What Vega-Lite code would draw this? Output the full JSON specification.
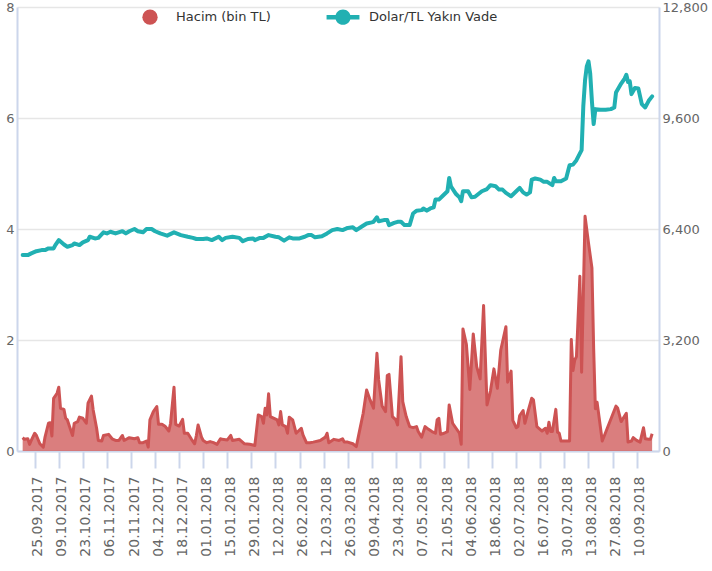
{
  "$schema": "https://vega.github.io/schema/vega-lite/v6.json",
  "width": 642,
  "height": 444,
  "autosize": {"type": "none"},
  "padding": {"left": 17, "top": 7, "right": 53, "bottom": 120},
  "background": "white",
  "config": {"view": {"stroke": null}},
  "datasets": {
    "hacim": [
      {"tarih": "2017-09-18", "hacim": 384}, {"tarih": "2017-09-19", "hacim": 336}, {"tarih": "2017-09-21", "hacim": 352}, {"tarih": "2017-09-22", "hacim": 192}, {"tarih": "2017-09-23", "hacim": 304}, {"tarih": "2017-09-25", "hacim": 512}, {"tarih": "2017-09-26", "hacim": 448}, {"tarih": "2017-09-28", "hacim": 208}, {"tarih": "2017-09-30", "hacim": 112},
      {"tarih": "2017-10-01", "hacim": 400}, {"tarih": "2017-10-03", "hacim": 800}, {"tarih": "2017-10-04", "hacim": 816}, {"tarih": "2017-10-05", "hacim": 432}, {"tarih": "2017-10-06", "hacim": 1520}, {"tarih": "2017-10-08", "hacim": 1664}, {"tarih": "2017-10-09", "hacim": 1840}, {"tarih": "2017-10-10", "hacim": 1232}, {"tarih": "2017-10-12", "hacim": 1200}, {"tarih": "2017-10-13", "hacim": 944}, {"tarih": "2017-10-14", "hacim": 896}, {"tarih": "2017-10-17", "hacim": 448}, {"tarih": "2017-10-18", "hacim": 800}, {"tarih": "2017-10-20", "hacim": 848}, {"tarih": "2017-10-21", "hacim": 976}, {"tarih": "2017-10-23", "hacim": 944}, {"tarih": "2017-10-25", "hacim": 800}, {"tarih": "2017-10-26", "hacim": 1376}, {"tarih": "2017-10-28", "hacim": 1584}, {"tarih": "2017-10-29", "hacim": 1184}, {"tarih": "2017-10-31", "hacim": 656},
      {"tarih": "2017-11-01", "hacim": 304}, {"tarih": "2017-11-03", "hacim": 288}, {"tarih": "2017-11-04", "hacim": 448}, {"tarih": "2017-11-07", "hacim": 480}, {"tarih": "2017-11-09", "hacim": 352}, {"tarih": "2017-11-11", "hacim": 304}, {"tarih": "2017-11-13", "hacim": 304}, {"tarih": "2017-11-15", "hacim": 448}, {"tarih": "2017-11-16", "hacim": 304}, {"tarih": "2017-11-19", "hacim": 384}, {"tarih": "2017-11-22", "hacim": 352}, {"tarih": "2017-11-24", "hacim": 384}, {"tarih": "2017-11-25", "hacim": 240}, {"tarih": "2017-11-27", "hacim": 240}, {"tarih": "2017-11-29", "hacim": 288}, {"tarih": "2017-11-30", "hacim": 112},
      {"tarih": "2017-12-01", "hacim": 896}, {"tarih": "2017-12-03", "hacim": 1136}, {"tarih": "2017-12-05", "hacim": 1280}, {"tarih": "2017-12-06", "hacim": 768}, {"tarih": "2017-12-08", "hacim": 768}, {"tarih": "2017-12-10", "hacim": 704}, {"tarih": "2017-12-12", "hacim": 576}, {"tarih": "2017-12-13", "hacim": 800}, {"tarih": "2017-12-15", "hacim": 1840}, {"tarih": "2017-12-16", "hacim": 768}, {"tarih": "2017-12-18", "hacim": 720}, {"tarih": "2017-12-20", "hacim": 912}, {"tarih": "2017-12-21", "hacim": 512}, {"tarih": "2017-12-23", "hacim": 512}, {"tarih": "2017-12-25", "hacim": 352}, {"tarih": "2017-12-27", "hacim": 208}, {"tarih": "2017-12-28", "hacim": 448}, {"tarih": "2017-12-29", "hacim": 752}, {"tarih": "2017-12-31", "hacim": 400},
      {"tarih": "2018-01-01", "hacim": 304}, {"tarih": "2018-01-03", "hacim": 240}, {"tarih": "2018-01-05", "hacim": 272}, {"tarih": "2018-01-07", "hacim": 240}, {"tarih": "2018-01-09", "hacim": 192}, {"tarih": "2018-01-11", "hacim": 352}, {"tarih": "2018-01-12", "hacim": 336}, {"tarih": "2018-01-15", "hacim": 320}, {"tarih": "2018-01-17", "hacim": 448}, {"tarih": "2018-01-18", "hacim": 304}, {"tarih": "2018-01-22", "hacim": 336}, {"tarih": "2018-01-25", "hacim": 208}, {"tarih": "2018-01-28", "hacim": 192}, {"tarih": "2018-01-31", "hacim": 160},
      {"tarih": "2018-02-02", "hacim": 1040}, {"tarih": "2018-02-04", "hacim": 992}, {"tarih": "2018-02-05", "hacim": 800}, {"tarih": "2018-02-06", "hacim": 1232}, {"tarih": "2018-02-07", "hacim": 1040}, {"tarih": "2018-02-08", "hacim": 1648}, {"tarih": "2018-02-09", "hacim": 992}, {"tarih": "2018-02-13", "hacim": 896}, {"tarih": "2018-02-14", "hacim": 752}, {"tarih": "2018-02-15", "hacim": 1136}, {"tarih": "2018-02-16", "hacim": 752}, {"tarih": "2018-02-18", "hacim": 704}, {"tarih": "2018-02-19", "hacim": 512}, {"tarih": "2018-02-20", "hacim": 976}, {"tarih": "2018-02-22", "hacim": 896}, {"tarih": "2018-02-24", "hacim": 512}, {"tarih": "2018-02-27", "hacim": 656}, {"tarih": "2018-02-28", "hacim": 464},
      {"tarih": "2018-03-02", "hacim": 240}, {"tarih": "2018-03-04", "hacim": 240}, {"tarih": "2018-03-06", "hacim": 256}, {"tarih": "2018-03-10", "hacim": 304}, {"tarih": "2018-03-13", "hacim": 400}, {"tarih": "2018-03-14", "hacim": 512}, {"tarih": "2018-03-15", "hacim": 240}, {"tarih": "2018-03-18", "hacim": 336}, {"tarih": "2018-03-21", "hacim": 304}, {"tarih": "2018-03-23", "hacim": 352}, {"tarih": "2018-03-24", "hacim": 256}, {"tarih": "2018-03-26", "hacim": 256}, {"tarih": "2018-03-29", "hacim": 208}, {"tarih": "2018-03-31", "hacim": 128},
      {"tarih": "2018-04-02", "hacim": 608}, {"tarih": "2018-04-04", "hacim": 1088}, {"tarih": "2018-04-06", "hacim": 1760}, {"tarih": "2018-04-08", "hacim": 1472}, {"tarih": "2018-04-10", "hacim": 1232}, {"tarih": "2018-04-12", "hacim": 2816}, {"tarih": "2018-04-13", "hacim": 2048}, {"tarih": "2018-04-15", "hacim": 1296}, {"tarih": "2018-04-17", "hacim": 1136}, {"tarih": "2018-04-18", "hacim": 2176}, {"tarih": "2018-04-19", "hacim": 2208}, {"tarih": "2018-04-21", "hacim": 992}, {"tarih": "2018-04-23", "hacim": 896}, {"tarih": "2018-04-24", "hacim": 752}, {"tarih": "2018-04-26", "hacim": 2720}, {"tarih": "2018-04-27", "hacim": 1424}, {"tarih": "2018-04-29", "hacim": 992},
      {"tarih": "2018-05-01", "hacim": 704}, {"tarih": "2018-05-03", "hacim": 672}, {"tarih": "2018-05-05", "hacim": 704}, {"tarih": "2018-05-06", "hacim": 560}, {"tarih": "2018-05-08", "hacim": 400}, {"tarih": "2018-05-10", "hacim": 704}, {"tarih": "2018-05-12", "hacim": 624}, {"tarih": "2018-05-14", "hacim": 560}, {"tarih": "2018-05-16", "hacim": 512}, {"tarih": "2018-05-17", "hacim": 896}, {"tarih": "2018-05-18", "hacim": 944}, {"tarih": "2018-05-19", "hacim": 480}, {"tarih": "2018-05-21", "hacim": 512}, {"tarih": "2018-05-23", "hacim": 560}, {"tarih": "2018-05-24", "hacim": 1328}, {"tarih": "2018-05-26", "hacim": 800}, {"tarih": "2018-05-28", "hacim": 656}, {"tarih": "2018-05-30", "hacim": 512}, {"tarih": "2018-05-31", "hacim": 192},
      {"tarih": "2018-06-01", "hacim": 3520}, {"tarih": "2018-06-03", "hacim": 3072}, {"tarih": "2018-06-05", "hacim": 1776}, {"tarih": "2018-06-07", "hacim": 3376}, {"tarih": "2018-06-09", "hacim": 2432}, {"tarih": "2018-06-11", "hacim": 2080}, {"tarih": "2018-06-13", "hacim": 4192}, {"tarih": "2018-06-15", "hacim": 1328}, {"tarih": "2018-06-17", "hacim": 1728}, {"tarih": "2018-06-19", "hacim": 2368}, {"tarih": "2018-06-20", "hacim": 2080}, {"tarih": "2018-06-21", "hacim": 1808}, {"tarih": "2018-06-23", "hacim": 2912}, {"tarih": "2018-06-26", "hacim": 3584}, {"tarih": "2018-06-27", "hacim": 1984}, {"tarih": "2018-06-29", "hacim": 2304}, {"tarih": "2018-06-30", "hacim": 880},
      {"tarih": "2018-07-02", "hacim": 672}, {"tarih": "2018-07-03", "hacim": 704}, {"tarih": "2018-07-04", "hacim": 1024}, {"tarih": "2018-07-06", "hacim": 1168}, {"tarih": "2018-07-07", "hacim": 800}, {"tarih": "2018-07-09", "hacim": 1168}, {"tarih": "2018-07-11", "hacim": 1520}, {"tarih": "2018-07-12", "hacim": 1472}, {"tarih": "2018-07-14", "hacim": 704}, {"tarih": "2018-07-17", "hacim": 576}, {"tarih": "2018-07-19", "hacim": 656}, {"tarih": "2018-07-20", "hacim": 512}, {"tarih": "2018-07-21", "hacim": 832}, {"tarih": "2018-07-22", "hacim": 560}, {"tarih": "2018-07-23", "hacim": 560}, {"tarih": "2018-07-25", "hacim": 1200}, {"tarih": "2018-07-26", "hacim": 544}, {"tarih": "2018-07-27", "hacim": 512}, {"tarih": "2018-07-28", "hacim": 288},
      {"tarih": "2018-08-01", "hacim": 288}, {"tarih": "2018-08-02", "hacim": 288}, {"tarih": "2018-08-03", "hacim": 3216}, {"tarih": "2018-08-04", "hacim": 2320}, {"tarih": "2018-08-05", "hacim": 2624}, {"tarih": "2018-08-06", "hacim": 2720}, {"tarih": "2018-08-08", "hacim": 5040}, {"tarih": "2018-08-09", "hacim": 2272}, {"tarih": "2018-08-11", "hacim": 6768}, {"tarih": "2018-08-13", "hacim": 6000}, {"tarih": "2018-08-15", "hacim": 5280}, {"tarih": "2018-08-16", "hacim": 2960}, {"tarih": "2018-08-17", "hacim": 1216}, {"tarih": "2018-08-18", "hacim": 1408}, {"tarih": "2018-08-21", "hacim": 288}, {"tarih": "2018-08-29", "hacim": 1296}, {"tarih": "2018-08-30", "hacim": 1232},
      {"tarih": "2018-09-01", "hacim": 848}, {"tarih": "2018-09-04", "hacim": 1088}, {"tarih": "2018-09-05", "hacim": 256}, {"tarih": "2018-09-07", "hacim": 288}, {"tarih": "2018-09-08", "hacim": 384}, {"tarih": "2018-09-10", "hacim": 304}, {"tarih": "2018-09-12", "hacim": 256}, {"tarih": "2018-09-14", "hacim": 672}, {"tarih": "2018-09-15", "hacim": 352}, {"tarih": "2018-09-17", "hacim": 336}, {"tarih": "2018-09-18", "hacim": 336}, {"tarih": "2018-09-19", "hacim": 496}
    ],
    "dolar": [
      {"tarih": "2017-09-18", "dolar": 3.53}, {"tarih": "2017-09-21", "dolar": 3.53}, {"tarih": "2017-09-23", "dolar": 3.56}, {"tarih": "2017-09-26", "dolar": 3.60}, {"tarih": "2017-09-29", "dolar": 3.62},
      {"tarih": "2017-10-01", "dolar": 3.62}, {"tarih": "2017-10-03", "dolar": 3.65}, {"tarih": "2017-10-06", "dolar": 3.65}, {"tarih": "2017-10-07", "dolar": 3.71}, {"tarih": "2017-10-09", "dolar": 3.80}, {"tarih": "2017-10-12", "dolar": 3.72}, {"tarih": "2017-10-14", "dolar": 3.68}, {"tarih": "2017-10-17", "dolar": 3.71}, {"tarih": "2017-10-18", "dolar": 3.74}, {"tarih": "2017-10-21", "dolar": 3.71}, {"tarih": "2017-10-23", "dolar": 3.76}, {"tarih": "2017-10-26", "dolar": 3.80}, {"tarih": "2017-10-27", "dolar": 3.86}, {"tarih": "2017-10-30", "dolar": 3.83},
      {"tarih": "2017-11-01", "dolar": 3.84}, {"tarih": "2017-11-04", "dolar": 3.94}, {"tarih": "2017-11-06", "dolar": 3.92}, {"tarih": "2017-11-08", "dolar": 3.95}, {"tarih": "2017-11-11", "dolar": 3.92}, {"tarih": "2017-11-15", "dolar": 3.96}, {"tarih": "2017-11-17", "dolar": 3.92}, {"tarih": "2017-11-19", "dolar": 3.96}, {"tarih": "2017-11-22", "dolar": 4.00}, {"tarih": "2017-11-24", "dolar": 3.96}, {"tarih": "2017-11-27", "dolar": 3.94}, {"tarih": "2017-11-29", "dolar": 4.00},
      {"tarih": "2017-12-02", "dolar": 4.00}, {"tarih": "2017-12-04", "dolar": 3.96}, {"tarih": "2017-12-07", "dolar": 3.92}, {"tarih": "2017-12-11", "dolar": 3.88}, {"tarih": "2017-12-15", "dolar": 3.94}, {"tarih": "2017-12-19", "dolar": 3.89}, {"tarih": "2017-12-23", "dolar": 3.86}, {"tarih": "2017-12-26", "dolar": 3.84}, {"tarih": "2017-12-28", "dolar": 3.82},
      {"tarih": "2018-01-01", "dolar": 3.82}, {"tarih": "2018-01-03", "dolar": 3.83}, {"tarih": "2018-01-06", "dolar": 3.80}, {"tarih": "2018-01-10", "dolar": 3.86}, {"tarih": "2018-01-12", "dolar": 3.80}, {"tarih": "2018-01-14", "dolar": 3.84}, {"tarih": "2018-01-18", "dolar": 3.86}, {"tarih": "2018-01-22", "dolar": 3.84}, {"tarih": "2018-01-24", "dolar": 3.78}, {"tarih": "2018-01-27", "dolar": 3.82}, {"tarih": "2018-01-30", "dolar": 3.83}, {"tarih": "2018-01-31", "dolar": 3.80},
      {"tarih": "2018-02-03", "dolar": 3.84}, {"tarih": "2018-02-05", "dolar": 3.84}, {"tarih": "2018-02-08", "dolar": 3.89}, {"tarih": "2018-02-12", "dolar": 3.86}, {"tarih": "2018-02-14", "dolar": 3.85}, {"tarih": "2018-02-17", "dolar": 3.79}, {"tarih": "2018-02-20", "dolar": 3.85}, {"tarih": "2018-02-22", "dolar": 3.83}, {"tarih": "2018-02-26", "dolar": 3.83},
      {"tarih": "2018-03-01", "dolar": 3.86}, {"tarih": "2018-03-03", "dolar": 3.89}, {"tarih": "2018-03-05", "dolar": 3.89}, {"tarih": "2018-03-07", "dolar": 3.85}, {"tarih": "2018-03-11", "dolar": 3.87}, {"tarih": "2018-03-14", "dolar": 3.92}, {"tarih": "2018-03-17", "dolar": 3.98}, {"tarih": "2018-03-20", "dolar": 4.00}, {"tarih": "2018-03-23", "dolar": 3.98}, {"tarih": "2018-03-26", "dolar": 4.02}, {"tarih": "2018-03-29", "dolar": 4.03}, {"tarih": "2018-03-31", "dolar": 3.98},
      {"tarih": "2018-04-03", "dolar": 4.04}, {"tarih": "2018-04-06", "dolar": 4.10}, {"tarih": "2018-04-09", "dolar": 4.12}, {"tarih": "2018-04-10", "dolar": 4.13}, {"tarih": "2018-04-12", "dolar": 4.21}, {"tarih": "2018-04-13", "dolar": 4.14}, {"tarih": "2018-04-16", "dolar": 4.16}, {"tarih": "2018-04-18", "dolar": 4.16}, {"tarih": "2018-04-19", "dolar": 4.07}, {"tarih": "2018-04-22", "dolar": 4.11}, {"tarih": "2018-04-24", "dolar": 4.13}, {"tarih": "2018-04-26", "dolar": 4.13}, {"tarih": "2018-04-28", "dolar": 4.07},
      {"tarih": "2018-05-01", "dolar": 4.07}, {"tarih": "2018-05-03", "dolar": 4.28}, {"tarih": "2018-05-05", "dolar": 4.33}, {"tarih": "2018-05-08", "dolar": 4.34}, {"tarih": "2018-05-09", "dolar": 4.37}, {"tarih": "2018-05-11", "dolar": 4.33}, {"tarih": "2018-05-13", "dolar": 4.37}, {"tarih": "2018-05-15", "dolar": 4.39}, {"tarih": "2018-05-16", "dolar": 4.53}, {"tarih": "2018-05-18", "dolar": 4.53}, {"tarih": "2018-05-20", "dolar": 4.59}, {"tarih": "2018-05-23", "dolar": 4.68}, {"tarih": "2018-05-24", "dolar": 4.92}, {"tarih": "2018-05-25", "dolar": 4.77}, {"tarih": "2018-05-28", "dolar": 4.63}, {"tarih": "2018-05-30", "dolar": 4.57}, {"tarih": "2018-05-31", "dolar": 4.50},
      {"tarih": "2018-06-01", "dolar": 4.68}, {"tarih": "2018-06-04", "dolar": 4.68}, {"tarih": "2018-06-06", "dolar": 4.57}, {"tarih": "2018-06-08", "dolar": 4.58}, {"tarih": "2018-06-12", "dolar": 4.68}, {"tarih": "2018-06-15", "dolar": 4.72}, {"tarih": "2018-06-17", "dolar": 4.79}, {"tarih": "2018-06-20", "dolar": 4.77}, {"tarih": "2018-06-22", "dolar": 4.71}, {"tarih": "2018-06-24", "dolar": 4.71}, {"tarih": "2018-06-26", "dolar": 4.65}, {"tarih": "2018-06-29", "dolar": 4.59},
      {"tarih": "2018-07-02", "dolar": 4.68}, {"tarih": "2018-07-04", "dolar": 4.74}, {"tarih": "2018-07-06", "dolar": 4.66}, {"tarih": "2018-07-08", "dolar": 4.62}, {"tarih": "2018-07-10", "dolar": 4.66}, {"tarih": "2018-07-11", "dolar": 4.89}, {"tarih": "2018-07-13", "dolar": 4.91}, {"tarih": "2018-07-16", "dolar": 4.89}, {"tarih": "2018-07-18", "dolar": 4.85}, {"tarih": "2018-07-20", "dolar": 4.85}, {"tarih": "2018-07-23", "dolar": 4.79}, {"tarih": "2018-07-24", "dolar": 4.92}, {"tarih": "2018-07-25", "dolar": 4.86}, {"tarih": "2018-07-28", "dolar": 4.86}, {"tarih": "2018-07-31", "dolar": 4.91},
      {"tarih": "2018-08-02", "dolar": 5.15}, {"tarih": "2018-08-04", "dolar": 5.16}, {"tarih": "2018-08-06", "dolar": 5.24}, {"tarih": "2018-08-09", "dolar": 5.42}, {"tarih": "2018-08-10", "dolar": 6.22}, {"tarih": "2018-08-11", "dolar": 6.68}, {"tarih": "2018-08-12", "dolar": 6.93}, {"tarih": "2018-08-13", "dolar": 7.02}, {"tarih": "2018-08-14", "dolar": 6.80}, {"tarih": "2018-08-15", "dolar": 6.30}, {"tarih": "2018-08-16", "dolar": 5.89}, {"tarih": "2018-08-17", "dolar": 6.16}, {"tarih": "2018-08-20", "dolar": 6.15}, {"tarih": "2018-08-23", "dolar": 6.15}, {"tarih": "2018-08-26", "dolar": 6.16}, {"tarih": "2018-08-28", "dolar": 6.19}, {"tarih": "2018-08-29", "dolar": 6.46},
      {"tarih": "2018-09-01", "dolar": 6.62}, {"tarih": "2018-09-03", "dolar": 6.71}, {"tarih": "2018-09-04", "dolar": 6.78}, {"tarih": "2018-09-05", "dolar": 6.65}, {"tarih": "2018-09-06", "dolar": 6.66}, {"tarih": "2018-09-07", "dolar": 6.43}, {"tarih": "2018-09-09", "dolar": 6.54}, {"tarih": "2018-09-11", "dolar": 6.53}, {"tarih": "2018-09-13", "dolar": 6.25}, {"tarih": "2018-09-15", "dolar": 6.19}, {"tarih": "2018-09-17", "dolar": 6.31}, {"tarih": "2018-09-19", "dolar": 6.39}
    ]
  },
  "layer": [
    {
      "data": {"name": "hacim"},
      "mark": {"type": "area", "fillOpacity": 0.75, "line": {"strokeWidth": 3, "strokeJoin": "round"}},
      "encoding": {
        "x": {
          "field": "tarih",
          "type": "temporal",
          "scale": {
            "type": "utc",
            "domain": [
              {"year": 2017, "month": 9, "date": 14, "hours": 17, "utc": true},
              {"year": 2018, "month": 9, "date": 23, "utc": true}
            ]
          },
          "axis": {
            "title": null,
            "format": "%d.%m.%Y",
            "tickCount": 40,
            "values": [
              {"year": 2017, "month": 9, "date": 25, "utc": true},
              {"year": 2017, "month": 10, "date": 9, "utc": true},
              {"year": 2017, "month": 10, "date": 23, "utc": true},
              {"year": 2017, "month": 11, "date": 6, "utc": true},
              {"year": 2017, "month": 11, "date": 20, "utc": true},
              {"year": 2017, "month": 12, "date": 4, "utc": true},
              {"year": 2017, "month": 12, "date": 18, "utc": true},
              {"year": 2018, "month": 1, "date": 1, "utc": true},
              {"year": 2018, "month": 1, "date": 15, "utc": true},
              {"year": 2018, "month": 1, "date": 29, "utc": true},
              {"year": 2018, "month": 2, "date": 12, "utc": true},
              {"year": 2018, "month": 2, "date": 26, "utc": true},
              {"year": 2018, "month": 3, "date": 12, "utc": true},
              {"year": 2018, "month": 3, "date": 26, "utc": true},
              {"year": 2018, "month": 4, "date": 9, "utc": true},
              {"year": 2018, "month": 4, "date": 23, "utc": true},
              {"year": 2018, "month": 5, "date": 7, "utc": true},
              {"year": 2018, "month": 5, "date": 21, "utc": true},
              {"year": 2018, "month": 6, "date": 4, "utc": true},
              {"year": 2018, "month": 6, "date": 18, "utc": true},
              {"year": 2018, "month": 7, "date": 2, "utc": true},
              {"year": 2018, "month": 7, "date": 16, "utc": true},
              {"year": 2018, "month": 7, "date": 30, "utc": true},
              {"year": 2018, "month": 8, "date": 13, "utc": true},
              {"year": 2018, "month": 8, "date": 27, "utc": true},
              {"year": 2018, "month": 9, "date": 10, "utc": true}
            ],
            "labelAngle": -90,
            "labelFont": "DejaVu Sans",
            "labelFontSize": 14,
            "labelColor": "#666666",
            "labelPadding": 8,
            "labelOffset": 3,
            "labelFlush": false,
            "labelOverlap": false,
            "domainColor": "#ccd6eb",
            "domainWidth": 2,
            "tickColor": "#ccd6eb",
            "tickWidth": 2,
            "tickSize": 17,
            "grid": false
          }
        },
        "y": {
          "field": "hacim",
          "type": "quantitative",
          "scale": {"domain": [0, 12800], "nice": false},
          "axis": {
            "orient": "right",
            "title": null,
            "values": [0, 3200, 6400, 9600, 12800],
            "format": ",d",
            "labelFont": "DejaVu Sans",
            "labelFontSize": 13,
            "labelColor": "#666666",
            "labelPadding": 3,
            "ticks": false,
            "grid": false,
            "domainColor": "#ccd6eb",
            "domainWidth": 2
          }
        },
        "color": {
          "datum": "Hacim (bin TL)",
          "scale": {"domain": ["Hacim (bin TL)", "Dolar/TL Yakın Vade"], "range": ["#cd5353", "#21b0b2"]},
          "legend": {
            "title": null,
            "orient": "none",
            "legendX": 125,
            "legendY": 2,
            "direction": "horizontal",
            "padding": 0,
            "symbolSize": 234,
            "symbolOpacity": 1,
            "labelOffset": 18,
            "columnPadding": 55,
            "labelFont": "DejaVu Sans",
            "labelFontSize": 13,
            "labelColor": "#333333",
            "encode": {
              "symbols": {
                "update": {
                  "shape": {"signal": "datum.value === 'Dolar/TL Yakın Vade' ? 'M-2.15,-0.3H2.15V0.3H-2.15Z M1,0A1,1 0 1,1 -1,0A1,1 0 1,1 1,0Z' : 'circle'"},
                  "fill": {"scale": "color", "field": "value"},
                  "stroke": {"value": "transparent"},
                  "strokeWidth": {"value": 0},
                  "opacity": {"value": 1},
                  "fillOpacity": {"value": 1}
                }
              }
            }
          }
        }
      }
    },
    {
      "data": {"name": "dolar"},
      "mark": {"type": "line", "strokeWidth": 4, "strokeJoin": "round", "strokeCap": "round"},
      "encoding": {
        "x": {"field": "tarih", "type": "temporal"},
        "y": {
          "field": "dolar",
          "type": "quantitative",
          "scale": {"domain": [0, 8], "nice": false},
          "axis": {
            "orient": "left",
            "title": null,
            "values": [0, 2, 4, 6, 8],
            "labelFont": "DejaVu Sans",
            "labelFontSize": 13,
            "labelColor": "#666666",
            "labelPadding": 3,
            "ticks": false,
            "grid": true,
            "gridColor": "#e6e6e6",
            "gridWidth": 1.5,
            "domainColor": "#ccd6eb",
            "domainWidth": 2
          }
        },
        "color": {"datum": "Dolar/TL Yakın Vade"}
      }
    }
  ],
  "resolve": {"scale": {"y": "independent"}}
}
